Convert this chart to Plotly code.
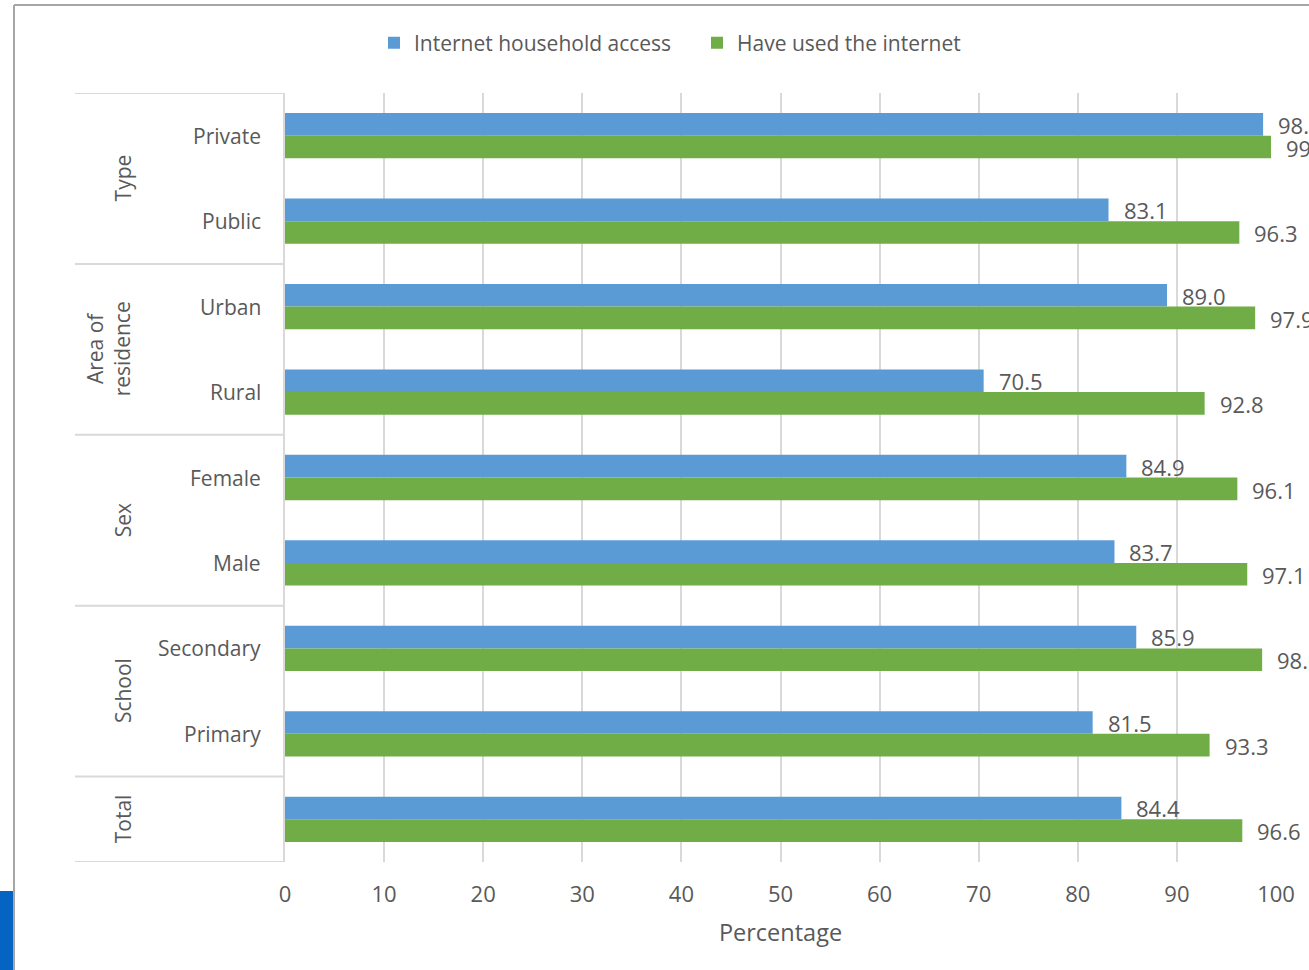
import plotly.graph_objects as go

# ---------------- data ----------------
categories = ["Private", "Public", "Urban", "Rural", "Female", "Male", "Secondary", "Primary", "Total"]
cat_labels = ["Private", "Public", "Urban", "Rural", "Female", "Male", "Secondary", "Primary", ""]
groups = ["Type", "Area of<br>residence", "Sex", "School", "Total"]
group_sizes = [2, 2, 2, 2, 1]
household_access = [98.7, 83.1, 89.0, 70.5, 84.9, 83.7, 85.9, 81.5, 84.4]
used_internet = [99.5, 96.3, 97.9, 92.8, 96.1, 97.1, 98.6, 93.3, 96.6]
x_ticks = [0, 10, 20, 30, 40, 50, 60, 70, 80, 90, 100]
series_names = ["Internet household access", "Have used the internet"]

# ---------------- layout geometry ----------------
W, H = 1309, 970
L, R, T, B = 285, 33, 93, 108
PW, PH = W - L - R, H - T - B
FONT = "Open Sans"
TXT = "#595959"
GRID = "#d9d9d9"
BLUE = "#5b9bd5"
GREEN = "#70ad47"


def px_x(px):
    return (px - L) / PW


def px_y(py):
    return (H - B - py) / PH


ypos = list(range(len(categories)))

fig = go.Figure()
fig.add_trace(go.Bar(
    y=ypos, x=household_access, orientation="h", name=series_names[0],
    marker=dict(color=BLUE, line=dict(width=0)),
))
fig.add_trace(go.Bar(
    y=ypos, x=used_internet, orientation="h", name=series_names[1],
    marker=dict(color=GREEN, line=dict(width=0)),
))

annotations = []
# data labels
for i, v in enumerate(household_access):
    annotations.append(dict(x=v, y=ypos[i], xref="x", yref="y", text=f"{v:.1f}",
                            showarrow=False, xanchor="left", xshift=13, yshift=11,
                            font=dict(family=FONT, size=22, color=TXT)))
for i, v in enumerate(used_internet):
    annotations.append(dict(x=v, y=ypos[i], xref="x", yref="y", text=f"{v:.1f}",
                            showarrow=False, xanchor="left", xshift=13, yshift=-12,
                            font=dict(family=FONT, size=22, color=TXT)))
# category labels
for i, lab in enumerate(cat_labels):
    if lab:
        annotations.append(dict(x=0, y=ypos[i], xref="paper", yref="y", text=lab,
                                showarrow=False, xanchor="right", xshift=-22,
                                font=dict(family=FONT, size=21, color=TXT)))
# group labels + table lines
shapes = []
start = 0
bounds = [-0.5]
for g, n in zip(groups, group_sizes):
    center = start + (n - 1) / 2
    gx = 108 if "<br>" in g else 123
    annotations.append(dict(x=px_x(gx), y=center, xref="paper", yref="y", text=g,
                            showarrow=False, textangle=-90, xanchor="center", yanchor="middle",
                            font=dict(family=FONT, size=21, color=TXT)))
    start += n
    bounds.append(start - 0.5)
for b in bounds:
    shapes.append(dict(type="line", xref="paper", yref="y", x0=px_x(75), x1=0, y0=b, y1=b,
                       line=dict(color=GRID, width=2)))

# outer frame / decoration
shapes.append(dict(type="line", xref="paper", yref="paper", x0=px_x(14), x1=px_x(14),
                   y0=px_y(5), y1=px_y(972), line=dict(color="#a6a6a6", width=2)))
shapes.append(dict(type="line", xref="paper", yref="paper", x0=px_x(14), x1=px_x(1320),
                   y0=px_y(5), y1=px_y(5), line=dict(color="#a6a6a6", width=2)))
shapes.append(dict(type="rect", xref="paper", yref="paper", x0=px_x(-2), x1=px_x(13),
                   y0=px_y(891), y1=px_y(975), fillcolor="#0563c1", line=dict(width=0)))

fig.update_layout(
    width=W, height=H,
    margin=dict(l=L, r=R, t=T, b=B, pad=0),
    paper_bgcolor="white", plot_bgcolor="white",
    barmode="group", bargap=0.47, bargroupgap=0,
    font=dict(family=FONT, size=20, color=TXT),
    showlegend=True,
    legend=dict(orientation="h", x=px_x(374), y=px_y(43), xanchor="left", yanchor="middle",
                font=dict(family=FONT, size=21, color=TXT), traceorder="normal",
                entrywidth=278, entrywidthmode="pixels", bgcolor="rgba(0,0,0,0)"),
    xaxis=dict(range=[0, 100], tickvals=x_ticks, ticktext=[str(t) for t in x_ticks],
               showgrid=True, gridcolor=GRID, gridwidth=2, zeroline=False,
               showline=False, ticks="", ticklabelstandoff=17,
               tickfont=dict(family=FONT, size=22, color=TXT),
               title=dict(text="Percentage", standoff=17,
                          font=dict(family=FONT, size=23.5, color=TXT)),
               fixedrange=True),
    yaxis=dict(range=[len(categories) - 0.5, -0.5], showticklabels=False, showgrid=False,
               zeroline=False, showline=True, linecolor=GRID, linewidth=2, ticks="",
               fixedrange=True),
    annotations=annotations,
    shapes=shapes,
)

fig.write_html("out.html", post_script="document.body.style.margin='0px';",
               config={"displayModeBar": False})
